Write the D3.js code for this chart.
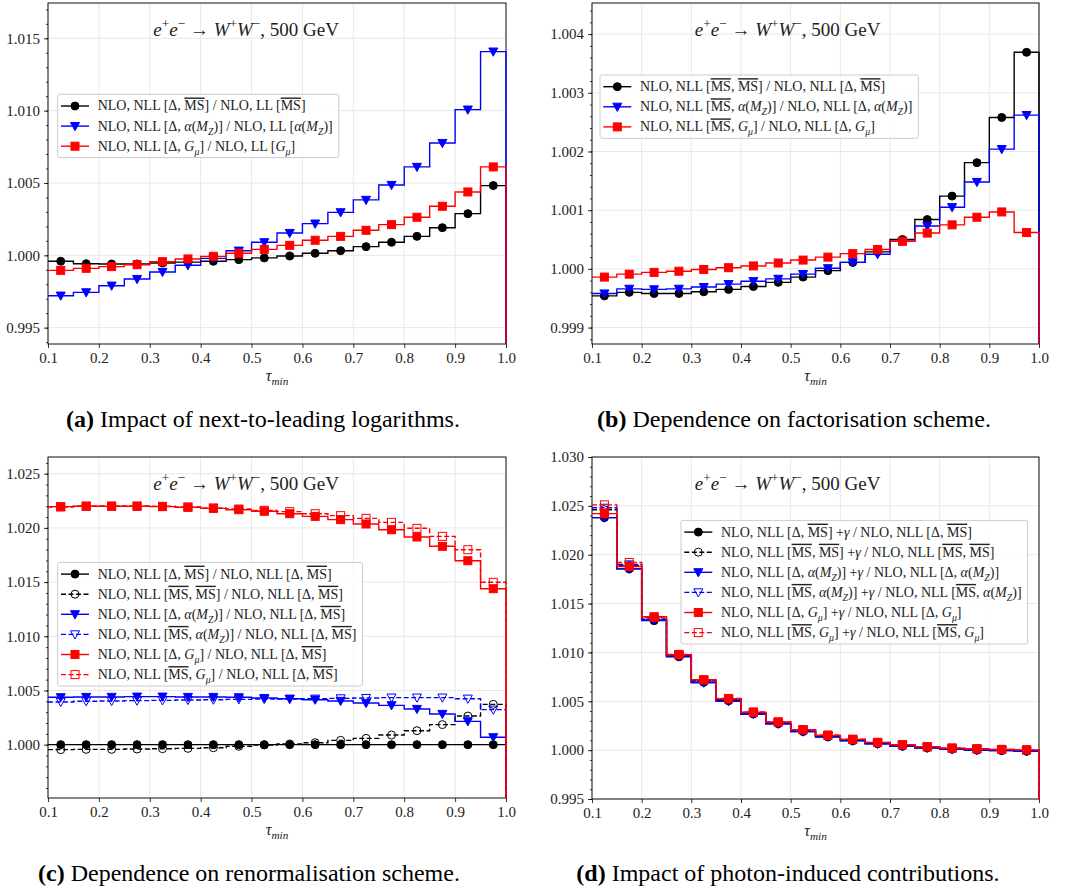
<!DOCTYPE html>
<html>
<head>
<meta charset="utf-8">
<script src="https://cdn.jsdelivr.net/npm/d3@7"></script>
<style>
  body { margin: 0; background: #fff; }
  text { font-family: "Liberation Serif", serif; }
</style>
</head>
<body>
<script>

// bins in tau_min, width 0.05
var binEdges = [0.10, 0.15, 0.20, 0.25, 0.30, 0.35, 0.40, 0.45, 0.50, 0.55, 0.60, 0.65, 0.70, 0.75, 0.80, 0.85, 0.90, 0.95, 1.00]
var binCentres = [0.125, 0.175, 0.225, 0.275, 0.325, 0.375, 0.425, 0.475, 0.525, 0.575, 0.625, 0.675, 0.725, 0.775, 0.825, 0.875, 0.925, 0.975]
var xTicks = [0.1, 0.2, 0.3, 0.4, 0.5, 0.6, 0.7, 0.8, 0.9, 1.0]

// (a) NLL / LL
var nllMS    = [0.99959, 0.99942, 0.99940, 0.99940, 0.99947, 0.99953, 0.99959, 0.99970, 0.99982, 0.99995, 1.00014, 1.00032, 1.00060, 1.00090, 1.00131, 1.00191, 1.00288, 1.00482]
var nllAlpha = [0.99721, 0.99744, 0.99790, 0.99836, 0.99885, 0.99931, 0.99979, 1.00032, 1.00090, 1.00154, 1.00219, 1.00297, 1.00383, 1.00486, 1.00611, 1.00776, 1.01007, 1.01408]
var nllGmu   = [0.99896, 0.99910, 0.99922, 0.99935, 0.99956, 0.99975, 0.99993, 1.00014, 1.00041, 1.00069, 1.00104, 1.00131, 1.00173, 1.00212, 1.00263, 1.00339, 1.00438, 1.00611]
var aTicks = [0.995, 1.000, 1.005, 1.010, 1.015]

// (b) factorisation scheme
var factMS    = [0.99954, 0.99960, 0.99958, 0.99958, 0.99961, 0.99965, 0.99970, 0.99977, 0.99986, 0.99997, 1.00011, 1.00029, 1.00050, 1.00084, 1.00124, 1.00181, 1.00258, 1.00369]
var factAlpha = [0.99958, 0.99966, 0.99965, 0.99966, 0.99969, 0.99974, 0.99979, 0.99983, 0.99991, 1.00001, 1.00011, 1.00025, 1.00047, 1.00073, 1.00105, 1.00148, 1.00204, 1.00262]
var factGmu   = [0.99986, 0.99991, 0.99994, 0.99996, 0.99999, 1.00002, 1.00005, 1.00010, 1.00015, 1.00020, 1.00026, 1.00033, 1.00047, 1.00061, 1.00075, 1.00088, 1.00097, 1.00062]
var bTicks = [0.999, 1.000, 1.001, 1.002, 1.003, 1.004]

// (c) renormalisation scheme
var renDeltaMS    = [1.00000, 1.00000, 1.00000, 1.00000, 1.00000, 1.00000, 1.00000, 1.00000, 1.00000, 1.00000, 1.00000, 1.00000, 1.00000, 1.00000, 1.00000, 1.00000, 1.00000, 1.00000]
var renMSMS       = [0.99954, 0.99957, 0.99957, 0.99960, 0.99963, 0.99966, 0.99972, 0.99985, 0.99997, 1.00006, 1.00018, 1.00040, 1.00058, 1.00089, 1.00129, 1.00185, 1.00264, 1.00372]
var renDeltaAlpha = [1.00437, 1.00440, 1.00440, 1.00443, 1.00443, 1.00440, 1.00440, 1.00437, 1.00430, 1.00424, 1.00415, 1.00403, 1.00384, 1.00363, 1.00329, 1.00283, 1.00215, 1.00068]
var renMSAlpha    = [1.00394, 1.00400, 1.00403, 1.00406, 1.00409, 1.00412, 1.00415, 1.00418, 1.00421, 1.00421, 1.00424, 1.00427, 1.00430, 1.00434, 1.00434, 1.00434, 1.00424, 1.00323]
var renDeltaGmu   = [1.02196, 1.02199, 1.02199, 1.02199, 1.02196, 1.02190, 1.02180, 1.02168, 1.02153, 1.02131, 1.02106, 1.02076, 1.02036, 1.01983, 1.01916, 1.01830, 1.01697, 1.01439]
var renMSGmu      = [1.02193, 1.02202, 1.02202, 1.02202, 1.02199, 1.02193, 1.02184, 1.02174, 1.02162, 1.02150, 1.02131, 1.02113, 1.02088, 1.02051, 1.01996, 1.01922, 1.01799, 1.01498]
var cTicks = [1.000, 1.005, 1.010, 1.015, 1.020, 1.025]

// (d) photon-induced
var phDeltaMS    = [1.02380, 1.01855, 1.01325, 1.00955, 1.00695, 1.00505, 1.00370, 1.00270, 1.00190, 1.00135, 1.00095, 1.00065, 1.00040, 1.00022, 1.00010, 1.00000, 0.99995, 0.99988]
var phMSMS       = [1.02460, 1.01890, 1.01340, 1.00970, 1.00710, 1.00520, 1.00380, 1.00280, 1.00200, 1.00145, 1.00105, 1.00072, 1.00050, 1.00030, 1.00016, 1.00007, 1.00000, 0.99993]
var phDeltaAlpha = [1.02380, 1.01855, 1.01330, 1.00960, 1.00690, 1.00500, 1.00370, 1.00270, 1.00190, 1.00140, 1.00098, 1.00065, 1.00040, 1.00024, 1.00010, 1.00002, 0.99996, 0.99988]
var phMSAlpha    = [1.02480, 1.01900, 1.01340, 1.00970, 1.00710, 1.00520, 1.00380, 1.00280, 1.00205, 1.00148, 1.00107, 1.00074, 1.00050, 1.00030, 1.00016, 1.00007, 1.00000, 0.99992]
var phDeltaGmu   = [1.02420, 1.01880, 1.01365, 1.00977, 1.00720, 1.00525, 1.00388, 1.00288, 1.00209, 1.00151, 1.00110, 1.00079, 1.00055, 1.00034, 1.00021, 1.00014, 1.00007, 1.00003]
var phMSGmu      = [1.02510, 1.01920, 1.01360, 1.00980, 1.00720, 1.00530, 1.00390, 1.00290, 1.00210, 1.00155, 1.00112, 1.00080, 1.00056, 1.00036, 1.00022, 1.00014, 1.00008, 1.00004]
var dTicks = [0.995, 1.000, 1.005, 1.010, 1.015, 1.020, 1.025, 1.030]

// legend labels: |..| = overline, $..$ = italic, _{..} / ^{..} = sub / sup
var aLabels = [
	"NLO, NLL [Δ, |MS|] / NLO, LL [|MS|]",
	"NLO, NLL [Δ, $α$($M_{Z}$)] / NLO, LL [$α$($M_{Z}$)]",
	"NLO, NLL [Δ, $G_{μ}$] / NLO, LL [$G_{μ}$]"
]
var bLabels = [
	"NLO, NLL [|MS|, |MS|] / NLO, NLL [Δ, |MS|]",
	"NLO, NLL [|MS|, $α$($M_{Z}$)] / NLO, NLL [Δ, $α$($M_{Z}$)]",
	"NLO, NLL [|MS|, $G_{μ}$] / NLO, NLL [Δ, $G_{μ}$]"
]
var cLabels = [
	"NLO, NLL [Δ, |MS|] / NLO, NLL [Δ, |MS|]",
	"NLO, NLL [|MS|, |MS|] / NLO, NLL [Δ, |MS|]",
	"NLO, NLL [Δ, $α$($M_{Z}$)] / NLO, NLL [Δ, |MS|]",
	"NLO, NLL [|MS|, $α$($M_{Z}$)] / NLO, NLL [Δ, |MS|]",
	"NLO, NLL [Δ, $G_{μ}$] / NLO, NLL [Δ, |MS|]",
	"NLO, NLL [|MS|, $G_{μ}$] / NLO, NLL [Δ, |MS|]"
]
var dLabels = [
	"NLO, NLL [Δ, |MS|] +$γ$ / NLO, NLL [Δ, |MS|]",
	"NLO, NLL [|MS|, |MS|] +$γ$ / NLO, NLL [|MS|, |MS|]",
	"NLO, NLL [Δ, $α$($M_{Z}$)] +$γ$ / NLO, NLL [Δ, $α$($M_{Z}$)]",
	"NLO, NLL [|MS|, $α$($M_{Z}$)] +$γ$ / NLO, NLL [|MS|, $α$($M_{Z}$)]",
	"NLO, NLL [Δ, $G_{μ}$] +$γ$ / NLO, NLL [Δ, $G_{μ}$]",
	"NLO, NLL [|MS|, $G_{μ}$] +$γ$ / NLO, NLL [|MS|, $G_{μ}$]"
]
var title = "$e$^{+}$e$^{−} → $W$^{+}$W$^{−}, 500 GeV"
var captions = [
	["(a)", " Impact of next-to-leading logarithms."],
	["(b)", " Dependence on factorisation scheme."],
	["(c)", " Dependence on renormalisation scheme."],
	["(d)", " Impact of photon-induced contributions."]
]

var BLACK = "#000000", BLUE = "#0000ff", RED = "#ff0000"

var panels = [
	{box: [48, 3, 506, 344], yDom: [0.99387, 1.01744], ticks: aTicks, minor: 0.001, legend: [9.7, 91.3],
	 cap: [263, 427], capText: captions[0], series: [
		{v: nllMS, c: BLACK, m: "o", lab: aLabels[0]},
		{v: nllAlpha, c: BLUE, m: "v", lab: aLabels[1]},
		{v: nllGmu, c: RED, m: "s", lab: aLabels[2]}]},
	{box: [592, 3, 1039, 344], yDom: [0.99872, 1.00453], ticks: bTicks, minor: 0.0002, legend: [8, 72],
	 cap: [794, 427], capText: captions[1], series: [
		{v: factMS, c: BLACK, m: "o", lab: bLabels[0]},
		{v: factAlpha, c: BLUE, m: "v", lab: bLabels[1]},
		{v: factGmu, c: RED, m: "s", lab: bLabels[2]}]},
	{box: [48, 457, 506, 798], yDom: [0.99508, 1.02654], ticks: cTicks, minor: 0.001, legend: [9.7, 105.4],
	 cap: [249, 881], capText: captions[2], series: [
		{v: renDeltaMS, c: BLACK, m: "o", lab: cLabels[0]},
		{v: renMSMS, c: BLACK, m: "o", open: true, lab: cLabels[1]},
		{v: renDeltaAlpha, c: BLUE, m: "v", lab: cLabels[2]},
		{v: renMSAlpha, c: BLUE, m: "v", open: true, lab: cLabels[3]},
		{v: renDeltaGmu, c: RED, m: "s", lab: cLabels[4]},
		{v: renMSGmu, c: RED, m: "s", open: true, lab: cLabels[5]}]},
	{box: [592, 457, 1039, 799], yDom: [0.995, 1.030], ticks: dTicks, minor: 0.001, legend: [89, 63.4],
	 cap: [788, 881], capText: captions[3], series: [
		{v: phDeltaMS, c: BLACK, m: "o", lab: dLabels[0]},
		{v: phMSMS, c: BLACK, m: "o", open: true, lab: dLabels[1]},
		{v: phDeltaAlpha, c: BLUE, m: "v", lab: dLabels[2]},
		{v: phMSAlpha, c: BLUE, m: "v", open: true, lab: dLabels[3]},
		{v: phDeltaGmu, c: RED, m: "s", lab: dLabels[4]},
		{v: phMSGmu, c: RED, m: "s", open: true, lab: dLabels[5]}]}
]

var svg = d3.select("body").append("svg")
	.attr("width", 1065).attr("height", 893)

svg.append("rect").attr("width", 1065).attr("height", 893).attr("fill", "#fff")

// tiny markup -> tspans
function parseRich(str) {
	var segs = [], buf = "", it = false, ol = false, mode = ""
	function flush() { if (buf) segs.push({t: buf, it: it, ol: ol, mode: mode}); buf = "" }
	for (var i = 0; i < str.length; i++) {
		var ch = str[i]
		if (ch == "$") { flush(); it = !it }
		else if (ch == "|") { flush(); ol = !ol }
		else if ((ch == "_" || ch == "^") && str[i + 1] == "{") { flush(); mode = ch == "_" ? "sub" : "sup"; i++ }
		else if (ch == "}" && mode) { flush(); mode = "" }
		else buf += ch
	}
	flush()
	return segs
}

function richText(sel, str, size) {
	var shift = 0
	parseRich(str).forEach(function(s) {
		var target = s.mode == "sub" ? size * 0.28 : s.mode == "sup" ? -size * 0.4 : 0
		var ts = sel.append("tspan")
			.attr("dy", target - shift)
			.style("font-size", (s.mode ? size * 0.7 : size) + "px")
			.style("font-style", s.it ? "italic" : "normal")
			.text(s.t)
		if (s.ol) ts.style("text-decoration", "overline")
		shift = target
	})
}

function marker(g, type, cx, cy, color, open) {
	var fill = open ? "none" : color
	if (type == "o") {
		g.append("circle").attr("cx", cx).attr("cy", cy).attr("r", 4)
			.attr("fill", fill).attr("stroke", color).attr("stroke-width", 1)
	} else if (type == "s") {
		g.append("rect").attr("x", cx - 4).attr("y", cy - 4).attr("width", 8).attr("height", 8)
			.attr("fill", fill).attr("stroke", color).attr("stroke-width", 1)
	} else {
		g.append("path")
			.attr("d", "M" + (cx - 4.5) + "," + (cy - 3.6) + "L" + (cx + 4.5) + "," + (cy - 3.6) + "L" + cx + "," + (cy + 4.6) + "Z")
			.attr("fill", fill).attr("stroke", color).attr("stroke-width", 1)
	}
}

panels.forEach(function(p) {
	var w = p.box[2] - p.box[0], h = p.box[3] - p.box[1]
	var g = svg.append("g").attr("transform", "translate(" + p.box[0] + "," + p.box[1] + ")")
	var x = d3.scaleLinear().domain([0.1, 1.0]).range([0, w])
	var y = d3.scaleLinear().domain(p.yDom).range([h, 0])

	// grid
	g.selectAll(".gx").data(xTicks).enter().append("line")
		.attr("x1", function(d) { return x(d) }).attr("x2", function(d) { return x(d) })
		.attr("y1", 0).attr("y2", h).attr("stroke", "#e8e8e8").attr("stroke-width", 1)
	g.selectAll(".gy").data(p.ticks).enter().append("line")
		.attr("x1", 0).attr("x2", w)
		.attr("y1", function(d) { return y(d) }).attr("y2", function(d) { return y(d) })
		.attr("stroke", "#e8e8e8").attr("stroke-width", 1)

	// axes
	var k0 = Math.ceil(p.yDom[0] / p.minor - 1e-6), k1 = Math.floor(p.yDom[1] / p.minor + 1e-6)
	var minorTicks = d3.range(k0, k1 + 1).map(function(k) { return k * p.minor })
	g.append("g").call(d3.axisLeft(y).tickValues(p.ticks).tickFormat(d3.format(".3f")).tickSize(4).tickPadding(4))
	g.append("g").call(d3.axisLeft(y).tickValues(minorTicks).tickFormat("").tickSize(2))
	g.append("g").attr("transform", "translate(0," + h + ")")
		.call(d3.axisBottom(x).tickValues(xTicks).tickFormat(d3.format(".1f")).tickSize(4).tickPadding(4))
	g.selectAll(".domain").remove()
	g.selectAll("g").attr("font-family", null).attr("font-size", null)
	g.selectAll(".tick line").attr("stroke", "#000").attr("stroke-width", 0.8)
	g.selectAll(".tick text").style("font-family", "'Liberation Serif', serif").style("font-size", "15px").attr("fill", "#222")

	// frame
	g.append("rect").attr("width", w).attr("height", h).attr("fill", "none")
		.attr("stroke", "#111").attr("stroke-width", 1)

	// steps
	var line = d3.line().curve(d3.curveStepAfter)
		.x(function(d) { return x(d[0]) }).y(function(d) { return y(d[1]) })
	p.series.forEach(function(s) {
		var pts = s.v.map(function(v, i) { return [binEdges[i], v] })
		pts.push([1.0, s.v[s.v.length - 1]])
		pts.push([1.0, p.yDom[0]])
		g.append("path").attr("d", line(pts)).attr("fill", "none")
			.attr("stroke", s.c).attr("stroke-width", 1.4)
			.attr("stroke-dasharray", s.open ? "5,2.5" : null)
		var mg = g.append("g")
		s.v.forEach(function(v, i) { marker(mg, s.m, x(binCentres[i]), y(v), s.c, s.open) })
	})

	// title
	var t = g.append("text").attr("x", w * 0.23).attr("y", 33).attr("fill", "#222")
	richText(t, title, 19)

	// x label
	var xl = g.append("text").attr("x", w / 2).attr("y", h + 37).attr("text-anchor", "middle").attr("fill", "#222")
	richText(xl, "$τ_{min}$", 16)

	// legend
	var lg = g.append("g").attr("transform", "translate(" + p.legend[0] + "," + p.legend[1] + ")")
	var bg = lg.append("rect")
	var maxW = 0
	p.series.forEach(function(s, i) {
		var cy = 11.7 + i * 20.1
		lg.append("line").attr("x1", 3.3).attr("x2", 31.3).attr("y1", cy).attr("y2", cy)
			.attr("stroke", s.c).attr("stroke-width", 1.4).attr("stroke-dasharray", s.open ? "5,2.5" : null)
		marker(lg, s.m, 17.3, cy, s.c, s.open)
		var tx = lg.append("text").attr("x", 40).attr("y", cy + 4.5).attr("fill", "#222")
		richText(tx, s.lab, 14)
		maxW = Math.max(maxW, tx.node().getComputedTextLength())
	})
	bg.attr("x", 0).attr("y", 0).attr("width", 40 + maxW + 6).attr("height", p.series.length * 20.1 + 3)
		.attr("rx", 2).attr("fill", "#fff").attr("fill-opacity", 0.8)
		.attr("stroke", "#cccccc").attr("stroke-width", 1)

	// caption below the panel
	var cap = svg.append("text").attr("x", p.cap[0]).attr("y", p.cap[1]).attr("text-anchor", "middle")
		.style("font-size", "24px").attr("fill", "#000")
	cap.append("tspan").style("font-weight", "bold").text(p.capText[0])
	cap.append("tspan").text(p.capText[1])
})

</script>
</body>
</html>
